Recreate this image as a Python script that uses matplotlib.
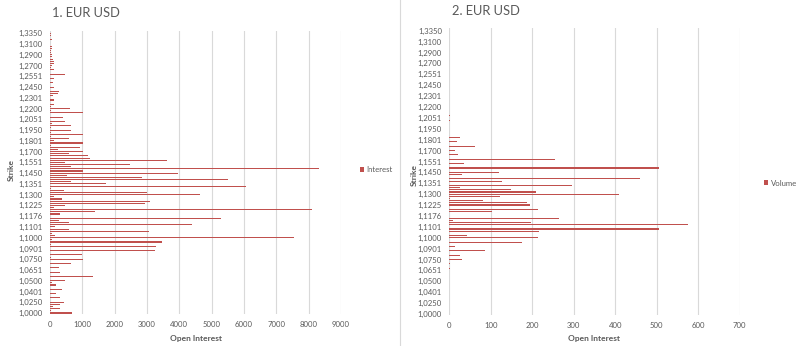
import matplotlib
matplotlib.use("Agg")
import matplotlib.pyplot as plt
from matplotlib.lines import Line2D

# Strike labels shown on the category axis (every 5th strike)
strike_labels = [
    "1,0000", "1,0250", "1,0401", "1,0500", "1,0651", "1,0750", "1,0901",
    "1,1000", "1,1101", "1,1176", "1,1225", "1,1300", "1,1351", "1,1450",
    "1,1551", "1,1700", "1,1801", "1,1950", "1,2051", "1,2200", "1,2301",
    "1,2450", "1,2551", "1,2700", "1,2900", "1,3100", "1,3350",
]
label_step = 5

# 1. EUR USD - open interest per strike, from 1,0000 up to 1,3350
interest = [
    670, 20, 310, 90, 310, 430, 0, 300, 0, 175,
    0, 370, 0, 185, 50, 460, 0, 1330, 0, 310,
    0, 280, 0, 650, 0, 1010, 20, 1000, 0, 3240,
    0, 3280, 20, 3460, 60, 7560, 155, 50, 3050, 590,
    155, 4390, 590, 280, 5290, 0, 310, 1390, 8100, 110,
    460, 2940, 3090, 370, 120, 4650, 3000, 430, 20, 6060,
    1730, 660, 5500, 2850, 520, 3960, 1030, 8310, 650, 2470,
    460, 3620, 1240, 1160, 600, 1010, 240, 930, 20, 1010,
    120, 590, 20, 1010, 30, 650, 20, 650, 60, 450,
    0, 400, 0, 1010, 30, 620, 20, 120, 0, 120,
    0, 80, 260, 280, 0, 130, 0, 80, 0, 110,
    0, 460, 0, 130, 30, 60, 110, 120, 80, 50,
    50, 30, 30, 60, 50, 0, 0, 60, 0, 20, 20,
]

# 2. EUR USD - volume per strike
volume = [
    0, 0, 0, 0, 0, 0, 0, 0, 0, 0,
    0, 0, 0, 0, 0, 0, 0, 0, 0, 0,
    0, 1, 0, 1, 0, 30, 0, 26, 0, 85,
    0, 14, 0, 176, 0, 214, 42, 0, 216, 505,
    0, 575, 196, 8, 265, 0, 0, 103, 213, 0,
    194, 188, 81, 2, 122, 410, 210, 149, 26, 295,
    0, 128, 460, 0, 30, 119, 0, 505, 0, 35,
    0, 255, 0, 20, 0, 14, 0, 62, 0, 18,
    0, 26, 0, 0, 0, 0, 0, 0, 0, 2,
    0, 2, 0, 0, 0, 0, 0, 0, 0, 0,
    0, 0, 0, 0, 0, 0, 0, 0, 0, 0,
    0, 0, 0, 0, 0, 0, 0, 0, 0, 0,
    0, 0, 0, 0, 0, 0, 0, 0, 0, 0, 0,
]

plt.rcParams["font.family"] = ["Lato", "DejaVu Sans"]
BAR = "#C0504D"
TXT = "#595959"
GRID = "#D9D9D9"
W, H = 800, 346


def rect(x0, y_top, x1, y_bot):
    return [x0 / W, 1 - y_bot / H, (x1 - x0) / W, (y_bot - y_top) / H]


def panel(ax, values, xmax, xstep, series):
    pos = list(range(len(values)))
    ax.barh(pos, values, height=0.5, color=BAR, edgecolor="none",
            label=series, zorder=2)
    ax.set_xlim(0, xmax)
    ax.set_ylim(-0.6, len(values) + 0.2)
    ax.set_xticks(range(0, xmax + 1, xstep))
    ax.set_yticks(pos[::label_step])
    ax.set_yticklabels(strike_labels)
    ax.tick_params(axis="both", length=0, labelsize=5.6, labelcolor=TXT)
    ax.tick_params(axis="y", pad=5.3)
    ax.tick_params(axis="x", pad=4.5)
    ax.grid(axis="x", color=GRID, linewidth=0.8, zorder=0)
    for s in ax.spines.values():
        s.set_visible(False)


fig = plt.figure(figsize=(8, 3.46), dpi=100)

ax1 = fig.add_axes(rect(50, 30.7, 341, 314.3))
panel(ax1, interest, 9000, 1000, "Interest")
ax2 = fig.add_axes(rect(449.3, 28.1, 739.8, 315.3))
panel(ax2, volume, 700, 100, "Volume")

for ax, lx, ly in [(ax1, 360, 170), (ax2, 764, 183)]:
    ax.legend(loc="center left", bbox_to_anchor=(lx / W, 1 - ly / H),
              bbox_transform=fig.transFigure, frameon=False, fontsize=5.6,
              handlelength=0.55, handleheight=0.55, handletextpad=0.3,
              borderpad=0, borderaxespad=0, labelcolor=TXT)

fig.text(52 / W, 1 - 13 / H, "1. EUR USD", fontsize=9.3, color=TXT, va="center")
fig.text(452 / W, 1 - 11 / H, "2. EUR USD", fontsize=9.3, color=TXT, va="center")
fig.text(195.5 / W, 1 - 339 / H, "Open Interest", fontsize=6, color=TXT,
         weight="bold", ha="center", va="center")
fig.text(594.5 / W, 1 - 339 / H, "Open Interest", fontsize=6, color=TXT,
         weight="bold", ha="center", va="center")
fig.text(11 / W, 1 - 170 / H, "Strike", fontsize=6, color=TXT, weight="bold",
         rotation=90, ha="center", va="center")
fig.text(414 / W, 1 - 175 / H, "Strike", fontsize=6, color=TXT, weight="bold",
         rotation=90, ha="center", va="center")

fig.add_artist(Line2D([399.5 / W] * 2, [0, 1], transform=fig.transFigure,
                      color=GRID, linewidth=0.8))

fig.savefig("out.png", dpi=100)
